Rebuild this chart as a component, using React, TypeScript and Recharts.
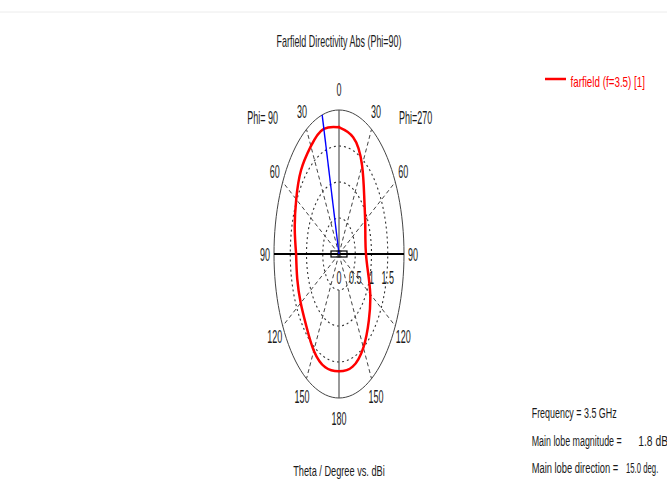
import React from 'react';
import { ComposedChart, Line, Scatter, XAxis, YAxis } from 'recharts';

// ---- data ----
const thetaDeg = [0, 15, 30, 45, 60, 75, 90, 105, 120, 135, 150, 165, 180];
// Directivity (dBi) on the Phi=90 half (drawn on the left)
const dirPhi90 = [1.76, 1.8, 1.73, 1.65, 1.52, 1.41, 1.32, 1.33, 1.36, 1.42, 1.55, 1.63, 1.63];
// Directivity (dBi) on the Phi=270 half (drawn on the right)
const dirPhi270 = [1.76, 1.68, 1.42, 1.1, 0.93, 0.84, 0.83, 0.92, 1.11, 1.3, 1.5, 1.62, 1.63];
const angleTicks = [0, 30, 60, 90, 120, 150, 180];
const radialTicks = [0, 0.5, 1, 1.5];
const gridRings = [0.5, 1, 1.5];
const outerRadius = 2;
const spokeAngles = [30, 60, 120, 150];
const mainLobeDirection = 15;
const mainLobeMagnitude = 1.8;
const frequencyGHz = 3.5;
const titleText = 'Farfield Directivity Abs (Phi=90)';
const axisTitle = 'Theta / Degree vs. dBi';
const legendText = 'farfield (f=3.5) [1]';
const phiLabels = [
  { x: -2.35, y: 1.89, text: 'Phi= 90' },
  { x: 2.36, y: 1.89, text: 'Phi=270' },
];

// ---- helpers ----
const rad = (d: number) => (d * Math.PI) / 180;
// side -1: Phi=90 half (left), side +1: Phi=270 half (right)
const toXY = (theta: number, r: number, side: number) => ({
  x: side * r * Math.sin(rad(theta)),
  y: r * Math.cos(rad(theta)),
});

const ringPoints = (r: number) => {
  const pts: { x: number; y: number }[] = [];
  for (let a = 0; a <= 360; a += 3) pts.push(toXY(a, r, 1));
  return pts;
};

// closed pattern curve, starting at theta=90 on the left side
const leftPts = thetaDeg.map((t, i) => ({ t, ...toXY(t, dirPhi90[i], -1) }));
const rightPts = thetaDeg.map((t, i) => ({ t, ...toXY(t, dirPhi270[i], 1) }));
const iStart = thetaDeg.indexOf(90);
const patternData = [
  ...leftPts.slice(iStart),
  ...rightPts.slice(0, rightPts.length - 1).reverse(),
  ...leftPts.slice(0, iStart + 1),
].map(({ x, y }) => ({ x, y }));

const labelR = 2.28;
const angleLabelData = [
  ...angleTicks.map((t) => ({ ...toXY(t, labelR, -1), text: String(t) })),
  ...angleTicks.filter((t) => t > 0 && t < 180).map((t) => ({ ...toXY(t, labelR, 1), text: String(t) })),
  ...phiLabels,
];
const radialLabelData = radialTicks.map((v) => ({ x: v, y: -0.33, text: String(v) }));

const spokes = spokeAngles.flatMap((a) => [
  [toXY(0, 0, 1), toXY(a, outerRadius, -1)],
  [toXY(0, 0, 1), toXY(a, outerRadius, 1)],
]);

const mainLobeData = [toXY(0, 0, 1), toXY(mainLobeDirection, outerRadius, -1)];
const hAxis = [toXY(90, outerRadius, -1), toXY(90, outerRadius, 1)];
const vAxisTop = [toXY(0, 0, 1), toXY(0, outerRadius, 1)];
const vAxisBottom = [toXY(180, 0.5, 1), toXY(180, outerRadius, 1)];
const centerMark = [{ x: 0, y: 0 }];

const FONT = "'Liberation Sans', Arial, sans-serif";
const TXT = '#1a1a1a';

const LabelShape = (props: any) => {
  const { cx, cy, payload } = props;
  return (
    <text
      transform={`translate(${cx},${cy + 6.5}) scale(0.5,1)`}
      textAnchor="middle"
      fontSize={18}
      fontFamily={FONT}
      fill={TXT}
    >
      {payload.text}
    </text>
  );
};

const CenterShape = (props: any) => {
  const { cx, cy } = props;
  return <rect x={cx - 8} y={cy - 3} width={16} height={6} fill="none" stroke="#000" strokeWidth={1.2} />;
};

const T = ({ x, y, len, size, fill = TXT, anchor = 'start', children }: any) => (
  <text
    x={x}
    y={y}
    fontSize={size}
    textLength={len}
    lengthAdjust="spacingAndGlyphs"
    textAnchor={anchor}
    fill={fill}
    fontFamily={FONT}
  >
    {children}
  </text>
);

export default function App() {
  return (
    <div style={{ position: 'absolute', left: 0, top: 0, width: 667, height: 486, background: '#fff' }}>
      <ComposedChart
        width={667}
        height={486}
        margin={{ top: 38, bottom: 16, left: 241.5, right: 230.5 }}
      >
        <XAxis type="number" dataKey="x" domain={[-3, 3]} tickCount={7} allowDataOverflow hide />
        <YAxis type="number" dataKey="y" domain={[-3, 3]} tickCount={7} allowDataOverflow hide />
        {gridRings.map((r) => (
          <Line
            key={'ring' + r}
            data={ringPoints(r)}
            dataKey="y"
            type="linear"
            stroke="#333"
            strokeWidth={1.1}
            strokeDasharray="2 3"
            dot={false}
            activeDot={false}
            isAnimationActive={false}
          />
        ))}
        {spokes.map((s, i) => (
          <Line
            key={'spoke' + i}
            data={s}
            dataKey="y"
            type="linear"
            stroke="#444"
            strokeWidth={1}
            strokeDasharray="4 3"
            dot={false}
            activeDot={false}
            isAnimationActive={false}
          />
        ))}
        <Line
          data={ringPoints(outerRadius)}
          dataKey="y"
          type="linear"
          stroke="#444"
          strokeWidth={1}
          dot={false}
          activeDot={false}
          isAnimationActive={false}
        />
        <Line data={vAxisTop} dataKey="y" stroke="#555" strokeWidth={1.2} dot={false} activeDot={false} isAnimationActive={false} />
        <Line data={vAxisBottom} dataKey="y" stroke="#555" strokeWidth={1.2} dot={false} activeDot={false} isAnimationActive={false} />
        <Line data={hAxis} dataKey="y" stroke="#000" strokeWidth={2} dot={false} activeDot={false} isAnimationActive={false} />
        <Line
          data={patternData}
          dataKey="y"
          type="natural"
          stroke="#ff0000"
          strokeWidth={2.5}
          dot={false}
          activeDot={false}
          isAnimationActive={false}
        />
        <Line data={mainLobeData} dataKey="y" stroke="#0000ff" strokeWidth={1.4} dot={false} activeDot={false} isAnimationActive={false} />
        <Scatter data={centerMark} dataKey="y" shape={<CenterShape />} isAnimationActive={false} />
        <Scatter data={angleLabelData} dataKey="y" shape={<LabelShape />} isAnimationActive={false} />
        <Scatter data={radialLabelData} dataKey="y" shape={<LabelShape />} isAnimationActive={false} />
      </ComposedChart>
      <svg
        width={667}
        height={486}
        style={{ position: 'absolute', left: 0, top: 0, pointerEvents: 'none' }}
      >
        <line x1={0} y1={12} x2={667} y2={12} stroke="#ececec" strokeWidth={1} />
        <T x={339} y={46.5} len={125} size={17} anchor="middle">{titleText}</T>
        <line x1={545} y1={79} x2={566} y2={79} stroke="#ff0000" strokeWidth={2.5} />
        <T x={570.5} y={86.5} len={74.5} size={15} fill="#ff0000">{legendText}</T>
        <T x={339} y={476} len={91.5} size={15} anchor="middle">{axisTitle}</T>
        <T x={531.7} y={418.3} len={85} size={14}>{`Frequency = ${frequencyGHz} GHz`}</T>
        <T x={531.7} y={446} len={90} size={14}>Main lobe magnitude =</T>
        <T x={638.3} y={446} len={32} size={14}>{`${mainLobeMagnitude} dBi`}</T>
        <T x={531.7} y={472.7} len={86.5} size={14}>Main lobe direction =</T>
        <T x={626} y={472.7} len={32.3} size={14}>{`${mainLobeDirection.toFixed(1)} deg.`}</T>
      </svg>
    </div>
  );
}
